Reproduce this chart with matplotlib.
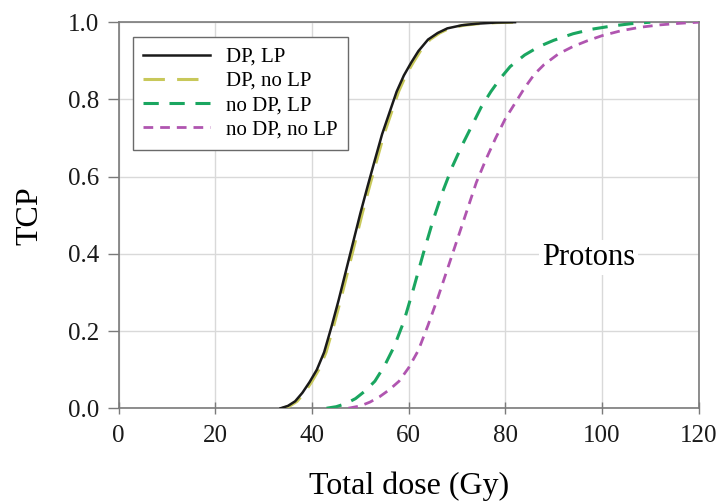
import matplotlib.pyplot as plt

# TCP curves (dose in Gy)
dose_dp_lp = [33.5, 35, 36.5, 38, 39.5, 41, 42.5, 44, 45.5, 47, 48.5, 50, 51.5, 53, 54.5, 56,
              57.5, 59, 60.5, 62, 64, 66, 68, 71, 74, 78, 82]
tcp_dp_lp = [0.0, 0.006, 0.018, 0.04, 0.068, 0.1, 0.145, 0.21, 0.28, 0.355, 0.43, 0.505, 0.575,
             0.643, 0.71, 0.765, 0.82, 0.862, 0.895, 0.925, 0.955, 0.972, 0.984, 0.992, 0.996,
             0.999, 1.0]

dose_dp_nolp = [33.9, 35.4, 36.9, 38.4, 39.9, 41.4, 42.9, 44.4, 45.9, 47.4, 48.9, 50.4, 51.9,
                53.4, 54.9, 56.4, 57.9, 59.4, 60.9, 62.4, 64.4, 66.4, 68.4, 71.4, 74.4, 78.4,
                82.5]
tcp_dp_nolp = [0.0, 0.006, 0.018, 0.04, 0.068, 0.1, 0.145, 0.21, 0.28, 0.355, 0.43, 0.505,
               0.575, 0.643, 0.71, 0.765, 0.82, 0.862, 0.895, 0.925, 0.955, 0.972, 0.984,
               0.992, 0.996, 0.999, 1.0]

dose_nodp_lp = [43, 45, 47, 49, 51, 53, 55, 57, 59, 61, 63, 65, 67, 69, 71, 73, 75, 77, 79, 81,
                84, 87, 90, 94, 98, 102, 106, 110]
tcp_nodp_lp = [0.0, 0.004, 0.012, 0.025, 0.045, 0.07, 0.11, 0.16, 0.225, 0.31, 0.4, 0.485,
               0.56, 0.625, 0.68, 0.73, 0.78, 0.82, 0.855, 0.885, 0.915, 0.937, 0.953, 0.97,
               0.982, 0.99, 0.996, 1.0]

dose_nodp_nolp = [47.5, 50, 52, 54, 56, 58, 60, 62, 64, 66, 68, 70, 72, 74, 76, 78, 80, 82, 84,
                  86, 88, 91, 94, 97, 100, 104, 108, 112, 116, 120]
tcp_nodp_nolp = [0.0, 0.006, 0.016, 0.03, 0.048, 0.07, 0.105, 0.15, 0.215, 0.285, 0.36, 0.435,
                 0.51, 0.585, 0.645, 0.7, 0.75, 0.79, 0.83, 0.865, 0.89, 0.918, 0.937, 0.952,
                 0.965, 0.978, 0.987, 0.993, 0.997, 1.0]

x_ticks = [0, 20, 40, 60, 80, 100, 120]
y_ticks = [0.0, 0.2, 0.4, 0.6, 0.8, 1.0]

plt.rcParams['font.family'] = ['Liberation Serif', 'DejaVu Serif']

fig = plt.figure(figsize=(7.24, 5.04), dpi=100)
ax = fig.add_axes([0.164, 0.19, 0.801, 0.766])

ax.plot(dose_dp_lp, tcp_dp_lp, color='#1a1a1a', lw=1.8, label='DP, LP', zorder=4)
ax.plot(dose_dp_nolp, tcp_dp_nolp, color='#c8c85a', lw=2.2, dashes=(7, 4),
        label='DP, no LP', zorder=3)
ax.plot(dose_nodp_lp, tcp_nodp_lp, color='#1aa660', lw=2.2, dashes=(5, 3.5),
        label='no DP, LP', zorder=3)
ax.plot(dose_nodp_nolp, tcp_nodp_nolp, color='#b055b0', lw=2.0, dashes=(3.5, 2.5),
        label='no DP, no LP', zorder=3)

ax.set_xlim(0, 120)
ax.set_ylim(0, 1.0)
ax.set_xticks(x_ticks)
ax.set_yticks(y_ticks)
ax.set_yticklabels([f'{v:.1f}' for v in y_ticks])
ax.grid(True, color='#d9d9d9', lw=1.0)
ax.set_axisbelow(True)

for s in ax.spines.values():
    s.set_color('#7a7a7a')
    s.set_linewidth(1.2)
ax.tick_params(axis='both', colors='#7a7a7a', labelcolor='#1a1a1a', labelsize=18, width=1)
ax.tick_params(axis='x', direction='inout', length=8, pad=8)
ax.tick_params(axis='y', direction='out', length=8, pad=6)

ax.set_xlabel('Total dose (Gy)', fontsize=23, labelpad=18)
ax.set_ylabel('TCP', fontsize=23, labelpad=17)

ax.text(87.6, 0.39, 'Protons', fontsize=22, va='center', ha='left',
        bbox=dict(facecolor='white', edgecolor='none', pad=2))

leg = ax.legend(loc='upper left', bbox_to_anchor=(0.024, 0.962), fontsize=15,
                handlelength=3.2, labelspacing=0.22, borderpad=0.5, handletextpad=0.8,
                fancybox=False, framealpha=1, borderaxespad=0)
leg.get_frame().set_edgecolor('#6a6a6a')
leg.get_frame().set_linewidth(1.0)

fig.savefig('out.png', dpi=100)
